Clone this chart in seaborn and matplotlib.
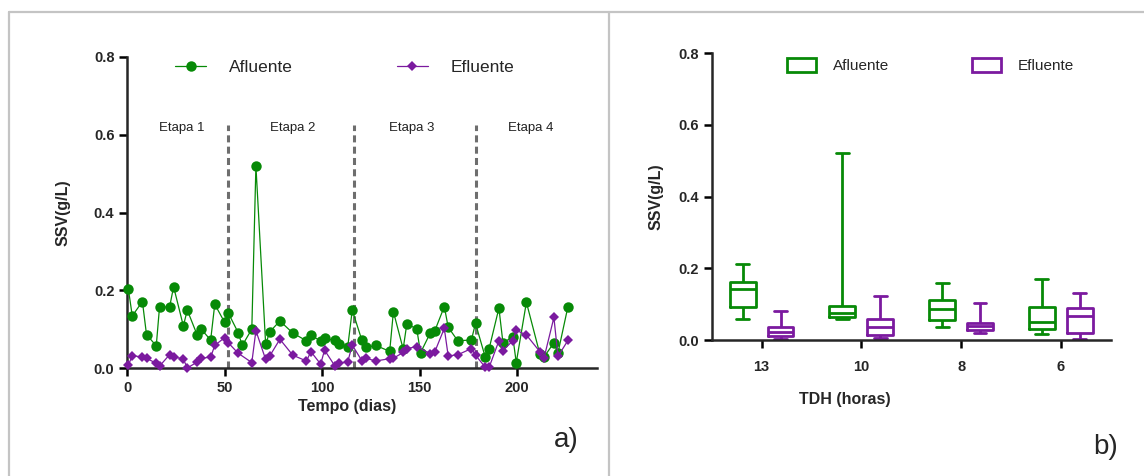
import matplotlib
matplotlib.use("Agg")
import matplotlib.pyplot as plt
import numpy as np
import pandas as pd
import seaborn as sns
from matplotlib.lines import Line2D
from matplotlib.patches import Patch

# ---------------- data ----------------
afl_dias = [0.7, 2.7, 7.9, 10.0, 15.0, 16.7, 21.8, 23.9, 28.9, 30.9, 35.9, 38.0, 42.9, 45.0,
            50.0, 51.9, 57.0, 59.1, 64.0, 66.1, 71.1, 73.2, 78.4, 85.0, 92.0, 94.3, 99.3,
            101.3, 106.5, 108.5, 113.2, 115.5, 120.4, 122.7, 127.5, 134.7, 136.6, 141.6,
            143.5, 148.6, 150.5, 155.5, 157.7, 162.7, 164.7, 169.6, 176.6, 178.7, 183.7,
            185.7, 190.7, 192.8, 197.8, 199.6, 204.8, 211.7, 213.8, 218.9, 221.0, 226.1]
afl_ssv = [0.203, 0.134, 0.171, 0.086, 0.057, 0.158, 0.156, 0.209, 0.108, 0.149, 0.086, 0.100,
           0.072, 0.164, 0.118, 0.142, 0.091, 0.058, 0.100, 0.520, 0.061, 0.093, 0.121, 0.090,
           0.070, 0.085, 0.069, 0.076, 0.071, 0.062, 0.055, 0.149, 0.072, 0.053, 0.058, 0.043,
           0.145, 0.049, 0.114, 0.100, 0.039, 0.090, 0.094, 0.158, 0.105, 0.070, 0.072, 0.115,
           0.028, 0.050, 0.154, 0.064, 0.081, 0.014, 0.169, 0.036, 0.028, 0.065, 0.039, 0.158]

efl_dias = [0.7, 2.7, 7.9, 10.0, 15.0, 16.7, 21.8, 23.9, 28.9, 30.9, 35.9, 38.0, 42.9, 45.0,
            50.0, 51.9, 57.0, 64.0, 66.1, 71.1, 73.2, 78.4, 85.0, 92.0, 94.3, 99.3, 101.3,
            106.5, 108.5, 113.2, 115.5, 120.4, 122.7, 127.5, 134.7, 136.6, 141.6, 143.5,
            148.6, 155.5, 157.7, 162.7, 164.7, 169.6, 176.6, 178.7, 183.7, 185.7, 190.7,
            192.8, 197.8, 199.6, 204.8, 211.7, 213.8, 218.9, 221.0, 226.1]
efl_ssv = [0.007, 0.032, 0.028, 0.025, 0.012, 0.005, 0.034, 0.029, 0.023, 0.000, 0.015, 0.025,
           0.028, 0.058, 0.078, 0.065, 0.038, 0.014, 0.096, 0.022, 0.031, 0.074, 0.033, 0.018,
           0.042, 0.010, 0.046, 0.006, 0.012, 0.016, 0.059, 0.019, 0.025, 0.018, 0.024, 0.025,
           0.040, 0.050, 0.055, 0.037, 0.040, 0.102, 0.031, 0.034, 0.050, 0.033, 0.002, 0.002,
           0.070, 0.045, 0.070, 0.097, 0.085, 0.042, 0.025, 0.130, 0.030, 0.071]

etapa_limites = [51.7, 116.2, 178.9]
etapa_rotulos = ["Etapa 1", "Etapa 2", "Etapa 3", "Etapa 4"]
etapa_centros = [28, 85, 146, 207]

tdh_categorias = ["13", "10", "8", "6"]
# five-number summaries (min, Q1, median, Q3, max) per TDH
afl_resumo = [[0.058, 0.091, 0.141, 0.163, 0.212],
              [0.058, 0.063, 0.076, 0.095, 0.521],
              [0.035, 0.056, 0.086, 0.113, 0.158],
              [0.017, 0.031, 0.049, 0.091, 0.170]]
efl_resumo = [[0.003, 0.012, 0.023, 0.035, 0.081],
              [0.005, 0.014, 0.035, 0.058, 0.123],
              [0.019, 0.028, 0.039, 0.048, 0.102],
              [0.003, 0.019, 0.067, 0.090, 0.130]]

series = ["Afluente", "Efluente"]
VERDE = "#078a07"
ROXO = "#7b1a9f"

# ---------------- style ----------------
sns.set_style("ticks")
plt.rcParams["font.family"] = ["Liberation Sans", "DejaVu Sans"]
plt.rcParams["axes.linewidth"] = 1.8

fig = plt.figure(figsize=(11.44, 4.76), dpi=100)
W, H = 1144, 476

def frac_box(x0, y0, x1, y1):
    return [x0 / W, 1 - y1 / H, (x1 - x0) / W, (y1 - y0) / H]

# panel frames
for xs, ys in [([9, 9], [12, 476]), ([609, 609], [12, 476]), ([9, 1144], [12, 12])]:
    fig.add_artist(Line2D([x / W for x in xs], [1 - y / H for y in ys],
                          color="#c4c4c4", lw=1.6))

# ---------------- panel a ----------------
ax1 = fig.add_axes(frac_box(127, 57, 597, 368))
ax1.vlines(etapa_limites, 0, 0.625, colors="#6e6e6e", linestyles=(0, (2.3, 1.4)),
           linewidth=2.2, zorder=1)
sns.lineplot(x=afl_dias, y=afl_ssv, ax=ax1, color=VERDE, marker="o", markersize=7.5,
             markeredgewidth=0, linewidth=0.9, sort=False, estimator=None, clip_on=False,
             zorder=3)
sns.lineplot(x=efl_dias, y=efl_ssv, ax=ax1, color=ROXO, marker="D", markersize=5.6,
             markeredgewidth=0, linewidth=0.9, sort=False, estimator=None, clip_on=False,
             zorder=4)
for cx, rot in zip(etapa_centros, etapa_rotulos):
    ax1.text(cx, 0.618, rot, ha="center", va="center", fontsize=9.5, color="#222222")

ax1.set_xlim(0, 241)
ax1.set_ylim(0, 0.8)
ax1.set_xticks([0, 50, 100, 150, 200])
ax1.set_yticks([0.0, 0.2, 0.4, 0.6, 0.8])
ax1.set_yticklabels(["0.0", "0.2", "0.4", "0.6", "0.8"])
ax1.set_xlabel("Tempo (dias)", fontsize=11.5, fontweight="bold")
ax1.set_ylabel("SSV(g/L)", fontsize=11.5, fontweight="bold")
ax1.xaxis.set_label_coords(0.469, -0.10)
ax1.yaxis.set_label_coords(-0.12, 0.5)

h1 = [Line2D([0], [0], color=VERDE, marker="o", markersize=7.5, markeredgewidth=0, lw=0.9),
      Line2D([0], [0], color=ROXO, marker="D", markersize=5.6, markeredgewidth=0, lw=0.9)]
fig.legend(h1, series, loc="upper left", bbox_to_anchor=(175 / W, 1 - 60 / H), ncol=2,
           frameon=False, fontsize=12.5, handlelength=1.8, handletextpad=1.3,
           columnspacing=6.0, borderpad=0, borderaxespad=0, numpoints=1)

# ---------------- panel b ----------------
rows = []
for cat, a, e in zip(tdh_categorias, afl_resumo, efl_resumo):
    rows += [(cat, "Afluente", v) for v in a]
    rows += [(cat, "Efluente", v) for v in e]
df_box = pd.DataFrame(rows, columns=["TDH", "Serie", "SSV"])

ax2 = fig.add_axes(frac_box(711.7, 53.3, 1110.7, 340))
sns.boxplot(data=df_box, x="TDH", y="SSV", hue="Serie", order=tdh_categorias,
            hue_order=series, palette=[VERDE, ROXO], fill=False, whis=(0, 100),
            width=0.76, gap=0.32, linewidth=2.0, showfliers=False, legend=False, ax=ax2)
ax2.set_xlim(-0.5, 3.5)
ax2.set_ylim(0, 0.8)
ax2.set_yticks([0.0, 0.2, 0.4, 0.6, 0.8])
ax2.set_yticklabels(["0.0", "0.2", "0.4", "0.6", "0.8"])
ax2.set_xlabel("TDH (horas)", fontsize=11.5, fontweight="bold")
ax2.set_ylabel("SSV(g/L)", fontsize=11.5, fontweight="bold")
ax2.xaxis.set_label_coords(0.333, -0.18)
ax2.yaxis.set_label_coords(-0.122, 0.5)

h2 = [Patch(facecolor="white", edgecolor=VERDE, linewidth=2.0),
      Patch(facecolor="white", edgecolor=ROXO, linewidth=2.0)]
fig.legend(h2, series, loc="upper left", bbox_to_anchor=(787 / W, 1 - 58 / H), ncol=2,
           frameon=False, fontsize=11, handlelength=1.9, handleheight=1.0,
           handletextpad=1.1, columnspacing=5.4, borderpad=0, borderaxespad=0)

for ax in (ax1, ax2):
    sns.despine(ax=ax)
    ax.tick_params(direction="out", length=6, width=1.8, labelsize=10.5, color="black")
    ax.tick_params(axis="y", pad=3)
    for lab in ax.get_xticklabels() + ax.get_yticklabels():
        lab.set_fontweight("bold")
ax1.tick_params(axis="x", pad=3)
ax2.tick_params(axis="x", pad=8.5)

fig.text(566 / W, 1 - 440 / H, "a)", fontsize=20, ha="center", va="center")
fig.text(1106 / W, 1 - 447 / H, "b)", fontsize=20, ha="center", va="center")

fig.savefig("out.png", dpi=100)
